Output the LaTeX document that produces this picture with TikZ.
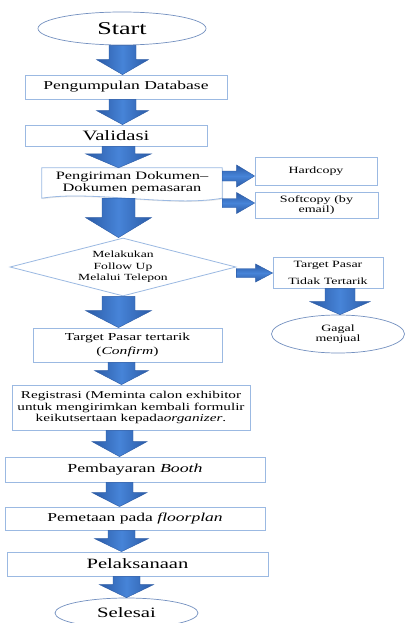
\documentclass[tikz,border=0pt]{standalone}
\usepackage{fontspec}
\setmainfont[FakeStretch=1.45]{Liberation Serif}
\usetikzlibrary{shapes.geometric,calc,shadows}
\definecolor{arrmid}{HTML}{4784D8}
\definecolor{arredge}{HTML}{2B5BA6}
\definecolor{boxline}{HTML}{9BB9E2}
\definecolor{ellline}{HTML}{7390C0}
\pgfdeclarelayer{bg}
\pgfdeclarelayer{paper}
\pgfsetlayers{paper,bg,main}
\tikzset{
  flowbox/.style={draw=boxline, line width=0.8pt, fill=white, inner sep=0pt, align=center,
    drop shadow={opacity=0.18, shadow xshift=1pt, shadow yshift=-1pt}},
  flowell/.style={ellipse, draw=ellline, line width=0.7pt, fill=white, inner sep=0pt, align=center},
  flowdia/.style={diamond, draw=boxline, line width=0.8pt, fill=white, inner sep=0pt, aspect=3.8, align=center},
  dnshade/.style={left color=arredge, right color=arredge, middle color=arrmid, draw=arredge, line width=0.4pt},
  rtshade/.style={top color=arredge, bottom color=arredge, middle color=arrmid, draw=arredge, line width=0.4pt},
}
% down block arrow: from, to, half shaft, half head, head length
\newcommand\dnarrow[5]{%
  \path[dnshade] let \p1=(#1), \p2=(#2) in
  (\x1-#3pt,\y1) -- (\x1+#3pt,\y1) -- (\x1+#3pt,\y2+#5pt) -- (\x1+#4pt,\y2+#5pt)
  -- (\x1,\y2) -- (\x1-#4pt,\y2+#5pt) -- (\x1-#3pt,\y2+#5pt) -- cycle;}
% right block arrow: from, to, half shaft, half head, head length
\newcommand\rtarrow[5]{%
  \path[rtshade] let \p1=(#1), \p2=(#2) in
  (\x1,\y1+#3pt) -- (\x2-#5pt,\y1+#3pt) -- (\x2-#5pt,\y1+#4pt) -- (\x2,\y1)
  -- (\x2-#5pt,\y1-#4pt) -- (\x2-#5pt,\y1-#3pt) -- (\x1,\y1-#3pt) -- cycle;}
\begin{document}
\begin{tikzpicture}[x=1pt,y=-1pt]
\useasboundingbox (0,0) rectangle (405,623);
\begin{pgfonlayer}{paper}
\fill[white] (0,0) rectangle (405,623);
\end{pgfonlayer}

% axis coordinates for arrows
\coordinate (xa) at (122.5,0);
\coordinate (xb) at (118.5,0);
\coordinate (xc) at (121.5,0);
\coordinate (xd) at (119.5,0);
\coordinate (xe) at (126.5,0);
\coordinate (xf) at (340,0);
\coordinate (ya) at (0,176);
\coordinate (yb) at (0,203);
\coordinate (yc) at (0,273);

% nodes
\node[flowell, minimum width=168pt, minimum height=33pt, font=\fontsize{18}{20}\selectfont] (start) at (122,28.5) {Start};
\node[flowbox, minimum width=202pt, minimum height=24pt, font=\fontsize{12.1}{14}\selectfont] (pd) at (126,87) {Pengumpulan Database};
\node[flowbox, minimum width=182pt, minimum height=21pt, font=\fontsize{14.3}{16}\selectfont] (val) at (116,135.5) {Validasi};
\node[inner sep=0pt, minimum width=180pt, minimum height=30pt, align=center, font=\fontsize{11.3}{11.5}\selectfont] (kirim) at (132,183) {Pengiriman Dokumen–\\Dokumen pemasaran};
\begin{pgfonlayer}{bg}
\draw[draw=boxline, line width=0.8pt, fill=white, drop shadow={opacity=0.18, shadow xshift=1pt, shadow yshift=-1pt}]
  (kirim.north west) -- (kirim.north east) -- (kirim.south east)
  .. controls +(-50,9) and +(50,-8) .. (kirim.south west) -- cycle;
\end{pgfonlayer}
\node[flowbox, minimum width=122pt, minimum height=28pt, font=\fontsize{9.6}{11}\selectfont] (hard) at (316,171) {Hardcopy};
\node[flowbox, minimum width=123pt, minimum height=26pt, font=\fontsize{9.7}{10.5}\selectfont] (soft) at (316.5,205) {Softcopy (by\\email)};
\node[flowdia, minimum width=226pt, minimum height=58pt, font=\fontsize{9.4}{11.5}\selectfont] (fu) at (123,267) {Melakukan\\Follow Up\\Melalui Telepon};
\node[flowbox, minimum width=110pt, minimum height=31pt, font=\fontsize{9.6}{17}\selectfont] (tidak) at (328,272.5) {Target Pasar\\Tidak Tertarik};
\node[flowell, minimum width=133pt, minimum height=38pt, font=\fontsize{9.6}{10.5}\selectfont] (gagal) at (338,334) {Gagal\\menjual};
\node[flowbox, minimum width=189pt, minimum height=34pt, font=\fontsize{10.7}{14}\selectfont] (tpt) at (127.5,345) {Target Pasar tertarik\\(\textit{Confirm})};
\node[flowbox, minimum width=238pt, minimum height=45pt, font=\fontsize{10.5}{11.7}\selectfont] (reg) at (131,407.5) {Registrasi (Meminta calon exhibitor\\untuk mengirimkan kembali formulir\\keikutsertaan kepada\textit{organizer}.};
\node[flowbox, minimum width=260pt, minimum height=25pt, font=\fontsize{12.3}{14}\selectfont] (bayar) at (135,469.5) {Pembayaran \textit{Booth}};
\node[flowbox, minimum width=260pt, minimum height=23pt, font=\fontsize{12.1}{14}\selectfont] (peta) at (135,518.5) {Pemetaan pada \textit{floorplan}};
\node[flowbox, minimum width=261pt, minimum height=24pt, font=\fontsize{14.2}{16}\selectfont] (laks) at (137.5,564) {Pelaksanaan};
\node[flowell, minimum width=143pt, minimum height=30pt, font=\fontsize{14.3}{16}\selectfont] (fin) at (126.5,613) {Selesai};

% down arrows
\dnarrow{start.south -| xa}{pd.north -| xa}{13.5}{26}{15}
\dnarrow{pd.south -| xa}{val.north -| xa}{13.5}{26}{14}
\dnarrow{val.south -| xb}{kirim.north -| xb}{16.5}{33}{14}
\dnarrow{kirim.south -| xb}{fu.north -| xb}{16.5}{33}{20}
\dnarrow{fu.south -| xb}{tpt.north -| xb}{16.5}{33}{17}
\dnarrow{tpt.south -| xc}{reg.north -| xc}{13.5}{27}{14}
\dnarrow{reg.south -| xd}{bayar.north -| xd}{13.5}{27.5}{15}
\dnarrow{bayar.south -| xd}{peta.north -| xd}{13.5}{27.5}{14}
\dnarrow{peta.south -| xc}{laks.north -| xc}{13.5}{27}{13}
\dnarrow{laks.south -| xe}{fin.north -| xe}{13.5}{27}{13}
\dnarrow{tidak.south -| xf}{gagal.north -| xf}{15}{30}{13}

% right arrows
\rtarrow{kirim.east |- ya}{hard.west |- ya}{5}{11}{18}
\rtarrow{kirim.east |- yb}{soft.west |- yb}{4.5}{10.5}{18}
\rtarrow{fu.east |- yc}{tidak.west |- yc}{4.5}{9}{17}
\end{tikzpicture}
\end{document}
